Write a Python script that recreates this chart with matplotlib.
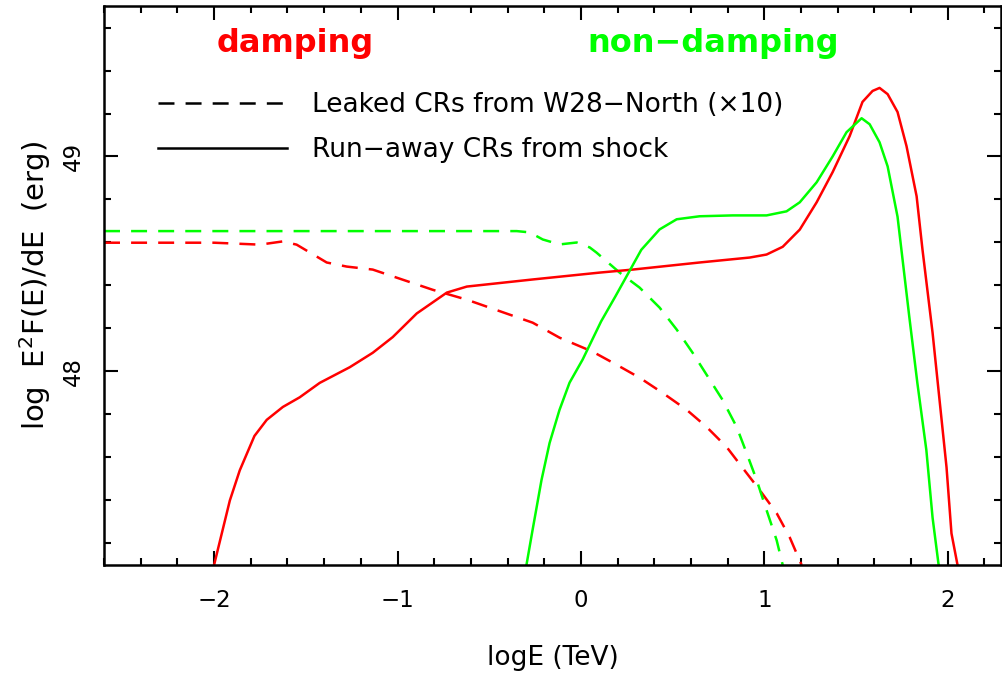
import matplotlib
matplotlib.use("Agg")
import matplotlib.pyplot as plt
from matplotlib.lines import Line2D
from matplotlib.ticker import MultipleLocator

# damping: run-away CRs from shock (solid red)
damp_run_x = [-2.00, -1.914, -1.86, -1.78, -1.713, -1.625, -1.533, -1.424, -1.26, -1.135,
              -1.026, -0.895, -0.731, -0.622, -0.263, 0.102, 0.282, 0.647, 0.92, 1.012,
              1.10, 1.193, 1.285, 1.372, 1.465, 1.535, 1.59, 1.628, 1.672, 1.726,
              1.775, 1.83, 1.862, 1.917, 1.955, 1.993, 2.02, 2.053]
damp_run_y = [47.10, 47.40, 47.54, 47.70, 47.775, 47.835, 47.88, 47.947, 48.02, 48.087,
              48.16, 48.27, 48.367, 48.395, 48.428, 48.46, 48.474, 48.507, 48.53, 48.544,
              48.58, 48.66, 48.787, 48.927, 49.095, 49.254, 49.305, 49.319, 49.29, 49.207,
              49.048, 48.815, 48.567, 48.18, 47.867, 47.555, 47.247, 47.10]

# non-damping: run-away CRs from shock (solid green)
nd_run_x = [-0.297, -0.264, -0.215, -0.171, -0.117, -0.062, 0.009, 0.11, 0.187, 0.247,
            0.329, 0.429, 0.522, 0.647, 0.827, 1.012, 1.121, 1.193, 1.285, 1.372,
            1.448, 1.53, 1.574, 1.628, 1.672, 1.726, 1.79, 1.834, 1.883, 1.917, 1.95]
nd_run_y = [47.10, 47.261, 47.495, 47.667, 47.821, 47.948, 48.055, 48.233, 48.348, 48.44,
            48.566, 48.661, 48.708, 48.722, 48.726, 48.726, 48.745, 48.787, 48.88, 49.00,
            49.113, 49.178, 49.15, 49.066, 48.954, 48.72, 48.255, 47.947, 47.635, 47.32, 47.10]

# non-damping: leaked CRs x10 (dashed green)
nd_leak_x = [-2.60, -2.0, -1.0, -0.35, -0.279, -0.208, -0.116, -0.023, 0.048, 0.085,
             0.211, 0.32, 0.429, 0.522, 0.609, 0.685, 0.772, 0.849, 0.903, 0.958,
             1.012, 1.067, 1.10]
nd_leak_y = [48.653, 48.653, 48.653, 48.653, 48.647, 48.614, 48.591, 48.60, 48.577, 48.553,
             48.46, 48.39, 48.297, 48.195, 48.087, 47.985, 47.868, 47.742, 47.621, 47.495,
             47.355, 47.215, 47.10]

# damping: leaked CRs x10 (dashed red)
damp_leak_x = [-2.60, -2.0, -1.75, -1.626, -1.55, -1.386, -1.277, -1.135, -0.808, -0.622,
               -0.263, -0.116, 0.064, 0.195, 0.32, 0.446, 0.576, 0.685, 0.794, 0.882,
               0.974, 1.067, 1.138, 1.203]
damp_leak_y = [48.599, 48.599, 48.59, 48.605, 48.59, 48.507, 48.488, 48.474, 48.38, 48.334,
               48.227, 48.157, 48.092, 48.031, 47.971, 47.90, 47.822, 47.742, 47.649, 47.551,
               47.449, 47.341, 47.229, 47.10]

RED = "#ff0000"
GREEN = "#00ff00"
DASH = (11.5, 8.0)
LW = 1.8

plt.rcParams["lines.scale_dashes"] = False
plt.rcParams["font.family"] = "DejaVu Sans"

fig = plt.figure(figsize=(10.03, 6.75), dpi=100)
ax = fig.add_axes([0.1037, 0.1630, 0.8943, 0.8281])

ax.plot(damp_leak_x, damp_leak_y, color=RED, lw=LW, dashes=DASH)
ax.plot(nd_leak_x, nd_leak_y, color=GREEN, lw=LW, dashes=DASH)
ax.plot(damp_run_x, damp_run_y, color=RED, lw=LW)
ax.plot(nd_run_x, nd_run_y, color=GREEN, lw=LW)

ax.set_xlim(-2.6, 2.29)
ax.set_ylim(47.1, 49.7)
ax.xaxis.set_major_locator(MultipleLocator(1))
ax.xaxis.set_minor_locator(MultipleLocator(0.2))
ax.yaxis.set_major_locator(MultipleLocator(1))
ax.yaxis.set_minor_locator(MultipleLocator(0.2))
ax.tick_params(which="both", direction="in", top=True, right=True, width=1.5)
ax.tick_params(which="major", length=10)
ax.tick_params(which="minor", length=5)
ax.tick_params(axis="x", which="major", labelsize=16.5, pad=17)
ax.tick_params(axis="y", which="major", labelsize=16.5, pad=14)
for lab in ax.get_yticklabels():
    lab.set_rotation(90)
    lab.set_va("center")
for s in ax.spines.values():
    s.set_linewidth(1.8)

ax.set_xlabel("logE (TeV)", fontsize=19, labelpad=24)
ax.set_ylabel("log  E$^2$F(E)/dE  (erg)", fontsize=21, labelpad=6)

ax.text(0.213, 0.918, "damping", color=RED, fontsize=23, fontweight="bold",
        ha="center", va="baseline", transform=ax.transAxes)
ax.text(0.679, 0.918, "non\u2212damping", color=GREEN, fontsize=23, fontweight="bold",
        ha="center", va="baseline", transform=ax.transAxes)

handles = [Line2D([], [], color="black", lw=LW, dashes=DASH),
           Line2D([], [], color="black", lw=LW)]
labels = ["Leaked CRs from W28\u2212North (\u00d710)", "Run\u2212away CRs from shock"]
ax.legend(handles, labels, loc="upper left", bbox_to_anchor=(0.06, 0.846),
          frameon=False, fontsize=19, handlelength=4.9, handletextpad=0.95,
          labelspacing=0.72, borderpad=0, borderaxespad=0)

fig.savefig("out.png", dpi=100)
